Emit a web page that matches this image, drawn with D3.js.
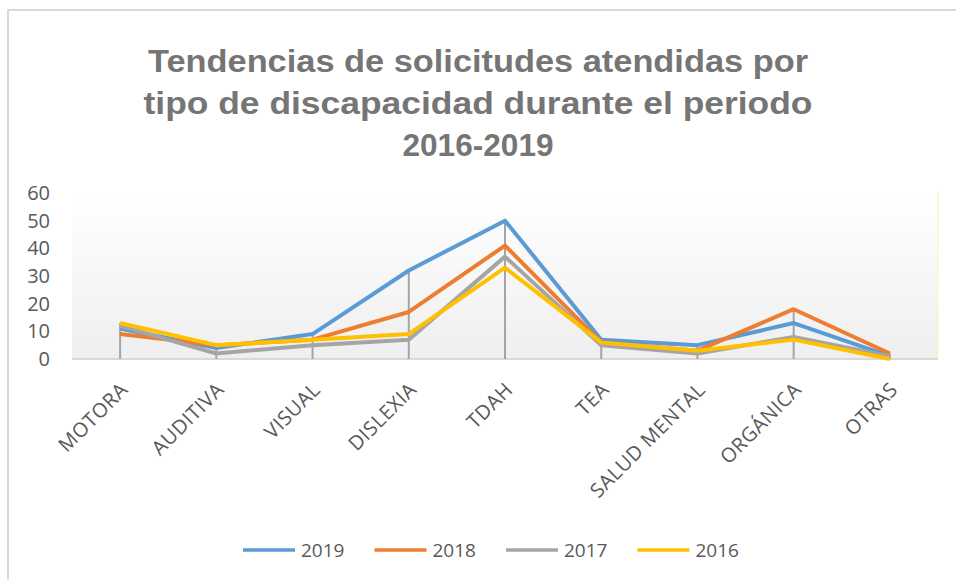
<!DOCTYPE html>
<html>
<head>
<meta charset="utf-8">
<script src="https://cdn.jsdelivr.net/npm/d3@7"></script>
<style>
  body { margin: 0; background: #fff; }
  svg { display: block; }
  text { font-family: "Open Sans", "Liberation Sans", sans-serif; fill: #595959; }
</style>
</head>
<body>
<svg id="chart" width="956" height="580"></svg>
<script>
"use strict";

var categories = ["MOTORA", "AUDITIVA", "VISUAL", "DISLEXIA", "TDAH", "TEA", "SALUD MENTAL", "ORGÁNICA", "OTRAS"];
var years = ["2019", "2018", "2017", "2016"];
var colors = ["#5b9bd5", "#ed7d31", "#a5a5a5", "#ffc000"];
var v2019 = [11, 4, 9, 32, 50, 7, 5, 13, 1];
var v2018 = [9, 5, 7, 17, 41, 6, 3, 18, 2];
var v2017 = [12, 2, 5, 7, 37, 5, 2, 8, 1];
var v2016 = [13, 5, 7, 9, 33, 6, 3, 7, 0];
var yTicks = [0, 10, 20, 30, 40, 50, 60];
var titleLines = ["Tendencias de solicitudes atendidas por", "tipo de discapacidad durante el periodo", "2016-2019"];
var titleWidths = [660, 669, 151];

var series = [v2019, v2018, v2017, v2016];

var svg = d3.select("#chart"),
  margin = {top: 193, left: 72, right: 18, bottom: 221},
  width = 956 - margin.left - margin.right
;

// outer frame
svg.append("path")
  .attr("d", "M8,580 L8,10 L956,10")
  .attr("fill", "none")
  .attr("stroke", "#d9d9d9")
  .attr("stroke-width", 2);

// title
svg.append("g").selectAll("text")
  .data(titleLines)
  .enter().append("text")
    .attr("x", 478)
    .attr("y", function(d, i) { return 72 + i * 42; })
    .attr("text-anchor", "middle")
    .attr("textLength", function(d, i) { return titleWidths[i]; })
    .attr("lengthAdjust", "spacingAndGlyphs")
    .style("font-family", "'Liberation Sans', Arial, sans-serif")
    .style("font-weight", "bold")
    .style("font-size", "32px")
    .style("fill", "#757575")
    .text(function(d) { return d; });

var defs = svg.append("defs");
var grad = defs.append("linearGradient").attr("id", "bg").attr("x1", 0).attr("y1", 0).attr("x2", 0).attr("y2", 1);
grad.append("stop").attr("offset", "0%").attr("stop-color", "#ffffff");
grad.append("stop").attr("offset", "100%").attr("stop-color", "#efefef");

var g = svg.append("g").attr("transform", "translate(" + margin.left + "," + margin.top + ")");

var x = d3.scalePoint().domain(categories).range([0, width]).padding(0.5),
  y = d3.scaleLinear().domain([0, 60]).range([166, 0])
;

// plot area background
g.append("rect")
  .attr("x", 0).attr("y", -2)
  .attr("width", width).attr("height", y(0) + 2)
  .attr("fill", "url(#bg)");

g.append("line")
  .attr("x1", width).attr("x2", width)
  .attr("y1", -2).attr("y2", y(0))
  .attr("stroke", "#fff7a0").attr("stroke-width", 1);

// baseline
g.append("line")
  .attr("x1", 0).attr("x2", width)
  .attr("y1", y(0)).attr("y2", y(0))
  .attr("stroke", "#d9d9d9").attr("stroke-width", 2);

// y labels
g.append("g")
  .call(d3.axisLeft(y).tickValues(yTicks).tickSize(0).tickPadding(22))
  .call(function(a) { a.select(".domain").remove(); })
  .selectAll("text")
    .style("font-size", "20px")
    .style("fill", "#595959")
    .style("font-family", "'Open Sans', sans-serif");

// drop lines
g.selectAll(".drop")
  .data(categories)
  .enter().append("line")
    .attr("class", "drop")
    .attr("x1", function(d) { return x(d); })
    .attr("x2", function(d) { return x(d); })
    .attr("y1", function(d, i) { return y(d3.max(series, function(s) { return s[i]; })); })
    .attr("y2", y(0))
    .attr("stroke", "#a5a5a5")
    .attr("stroke-width", 2);

var line = d3.line()
  .x(function(d, i) { return x(categories[i]); })
  .y(function(d) { return y(d); });

g.selectAll(".series")
  .data(series)
  .enter().append("path")
    .attr("class", "series")
    .attr("d", line)
    .attr("fill", "none")
    .attr("stroke", function(d, i) { return colors[i]; })
    .attr("stroke-width", 4)
    .attr("stroke-linejoin", "round");

// x labels
g.append("g")
  .attr("transform", "translate(0," + y(0) + ")")
  .selectAll("text")
  .data(categories)
  .enter().append("text")
    .attr("transform", function(d) { return "translate(" + (x(d) + 9) + ",32) rotate(-45)"; })
    .attr("text-anchor", "end")
    .style("font-size", "20px")
    .style("letter-spacing", "0.5px")
    .text(function(d) { return d; });

// legend
var legend = svg.append("g").attr("transform", "translate(243,550)");
var items = legend.selectAll("g")
  .data(years)
  .enter().append("g")
    .attr("transform", function(d, i) { return "translate(" + (i * 131.5) + ",0)"; });
items.append("line")
  .attr("x1", 0).attr("x2", 52)
  .attr("stroke", function(d, i) { return colors[i]; })
  .attr("stroke-width", 3.5);
items.append("text")
  .attr("x", 58).attr("y", 7)
  .style("font-size", "19px")
  .text(function(d) { return d; });
</script>
</body>
</html>
